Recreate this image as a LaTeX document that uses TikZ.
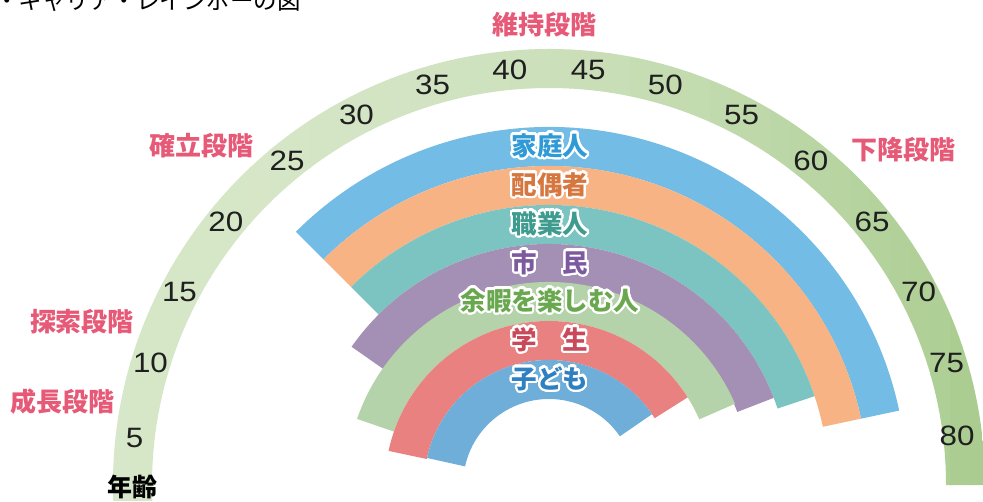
\documentclass[tikz,border=0pt]{standalone}
\usepackage{fontspec}
\usepackage{tikz}
\usepackage{contour}
\usetikzlibrary{calc}
\newfontfamily\jpfont{Noto Sans CJK JP}
\newfontfamily\numfont[FakeStretch=1.12]{Liberation Sans}
\contourlength{2.2pt}
\contournumber{32}

\definecolor{agelight}{HTML}{D7E7C9}
\definecolor{agedark}{HTML}{AACC90}
\definecolor{stagepink}{HTML}{E65A78}
\definecolor{famfill}{HTML}{72BCE6}
\definecolor{famtext}{HTML}{2F9AD6}
\definecolor{spofill}{HTML}{F7B383}
\definecolor{spotext}{HTML}{D5773E}
\definecolor{jobfill}{HTML}{7CC4C2}
\definecolor{jobtext}{HTML}{3E9B8F}
\definecolor{citfill}{HTML}{A48FB5}
\definecolor{cittext}{HTML}{7D5AA0}
\definecolor{leifill}{HTML}{B5D3AA}
\definecolor{leitext}{HTML}{6AA84F}
\definecolor{stufill}{HTML}{E98181}
\definecolor{stutext}{HTML}{C9495A}
\definecolor{kidfill}{HTML}{6EAED9}
\definecolor{kidtext}{HTML}{2F80C0}

\begin{document}
\begin{tikzpicture}[x=1pt,y=1pt,
    stage/.style={text=stagepink,inner sep=0pt,font=\jpfont\bfseries\fontsize{26}{26}\selectfont},
    age/.style={text=black!88,inner sep=0pt,font=\numfont\fontsize{28}{28}\selectfont},
    role/.style={inner sep=0pt,font=\jpfont\bfseries\fontsize{25.5}{26}\selectfont}]
    \useasboundingbox (0,0) rectangle (983,501);
    \coordinate (O) at (549,16);

    % age band, lighter on the left
    \begin{scope}
        \clip[shift={(O)}] (0:397pt) arc[start angle=0,end angle=186,radius=397pt]
            -- (186:436pt) arc[start angle=186,end angle=0,radius=436pt] -- cycle;
        \foreach \i in {0,...,43} {
            \pgfmathtruncatemacro\mix{100*(1-(\i/43)^2)}
            \fill[agelight!\mix!agedark] (110+20*\i,0) rectangle (131+20*\i,501);
        }
    \end{scope}
    \foreach \a/\t/\d in {5/173.5/417,10/162.9/417,15/152.4/417,20/140.8/417,25/128.9/417,
                          30/117.5/417,35/106.2/417,40/95.4/417,45/84.6/417,50/73.8/417,
                          55/62.5/417,60/51.1/417,65/39.2/417,70/27.6/417,75/17.1/416,80/6.8/411}
        \node[age] (age\a) at ($(O)+(\t:\d pt)$) {\a};
    \node[inner sep=0pt,font=\jpfont\bfseries\fontsize{25}{25}\selectfont] (agelabel) at (132,14) {年齢};

    % life roles (inner radius / start / end)
    \foreach \r/\s/\e/\fc/\tc/\txt [evaluate=\r as \R using \r+39] in {
        319/135/12/famfill/famtext/家庭人,
        280/135/12/spofill/spotext/配偶者,
        241/135/18.5/jobfill/jobtext/職業人,
        202/145/21.2/citfill/cittext/市　民,
        164/161/23.6/leifill/leitext/余暇を楽しむ人,
        125/168/32.3/stufill/stutext/学　生,
        86/167.5/34.5/kidfill/kidtext/子ども} {
        \fill[\fc,shift={(O)}] (\s:\r pt) arc[start angle=\s,end angle=\e,radius=\r pt]
            -- (\e:\R pt) arc[start angle=\e,end angle=\s,radius=\R pt] -- cycle;
        \node[role,text=\tc] (role\r) at ($(O)+(1,\r+19.5)$) {\contour{white}{\txt}};
    }

    % life stages
    \node[stage] (growth) at (62,99) {成長段階};
    \node[stage] (explore) at (82,179) {探索段階};
    \node[stage] (establish) at (201,355) {確立段階};
    \node[stage] (maintain) at (544,476) {維持段階};
    \node[stage] (decline) at (903,351) {下降段階};

    \node[anchor=base west,inner sep=0pt,font=\jpfont\fontsize{23.5}{24}\selectfont] (title)
        at (-5,491) {・キャリア・レインボーの図};
\end{tikzpicture}
\end{document}
